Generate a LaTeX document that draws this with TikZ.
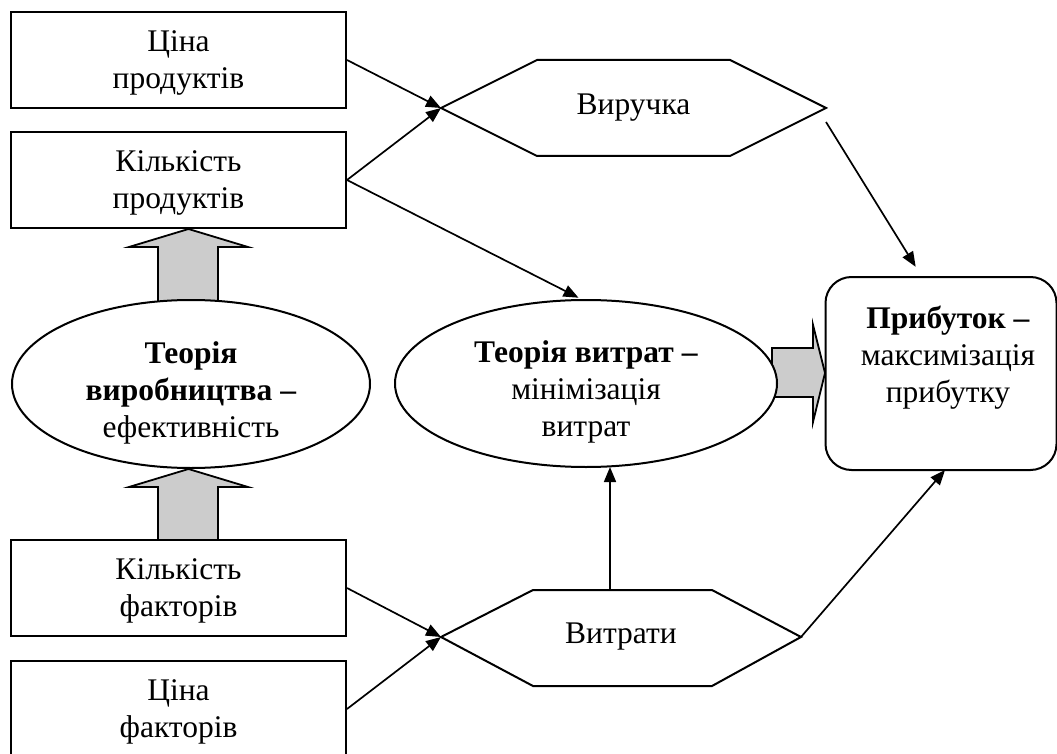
\documentclass[tikz,border=0pt]{standalone}
\usepackage{fontspec}
\setmainfont{Liberation Serif}
\usetikzlibrary{shapes.geometric,arrows.meta,calc}

\tikzset{
  every node/.style={font=\fontsize{31.5}{37}\selectfont, align=center, inner sep=0pt},
  frame/.style={draw, line width=2pt, fill=white},
  factor/.style={frame, rectangle, minimum width=335pt, minimum height=96pt},
  theory/.style={frame, ellipse},
  hexline/.style={line width=2pt, fill=white, line join=miter},
  flow/.style={line width=1.7pt, -{Triangle[length=15pt,width=12pt]}},
  bigarrow/.style={draw, line width=1.8pt, fill=black!20, line join=miter}
}

\begin{document}
\begin{tikzpicture}[x=1pt, y=-1pt]
\useasboundingbox (0,0) rectangle (1057,754);

% wide shaded arrows (drawn first so the shapes sit on top of their tails)
\draw[bigarrow] (158,304) -- (158,247) -- (129,247) -- (188.5,229) -- (248,247)
  -- (218,247) -- (218,304) -- cycle;
\draw[bigarrow] (158,541) -- (158,487) -- (129,487) -- (188.5,469) -- (248,487)
  -- (218,487) -- (218,541) -- cycle;
\draw[bigarrow] (772,348) -- (813,348) -- (813,325) -- (825,373) -- (813,422)
  -- (813,397) -- (772,397) -- cycle;

% input boxes
\node[factor] (pprice) at (178.5,60) {};
\node (pricetxt) at (178.5,63) {Ціна\\продуктів};
\node[factor] (pqty)   at (178.5,180) {};
\node (pqtytxt) at (178.5,183) {Кількість\\продуктів};
\node[factor] (fqty)   at (178.5,588) {};
\node (fqtytxt) at (178.5,591) {Кількість\\факторів};
\node[factor] (fprice) at (178.5,709) {};
\node (fpricetxt) at (178.5,712) {Ціна\\факторів};

% theories
\node[theory, minimum width=358pt, minimum height=168pt] (prod) at (191,384) {};
\node (prodtxt) at (191,393)
  {\textbf{Теорія}\\\textbf{виробництва –}\\ефективність};
\node[theory, minimum width=382pt, minimum height=167pt] (cost) at (586,383.5) {};
\node (costtxt) at (586,392)
  {\textbf{Теорія витрат –}\\мінімізація\\витрат};

% revenue hexagon
\coordinate (revL) at (441,108);
\coordinate (revR) at (826,108);
\draw[hexline] (revL) -- (537,60) -- (730,60) -- (revR) -- (730,156) -- (537,156) -- cycle;
\node (rev) at (633.5,108) {Виручка};

% costs hexagon
\coordinate (costL) at (441,637);
\coordinate (costR) at (801,637);
\draw[hexline] (costL) -- (533,590) -- (712,590) -- (costR) -- (712,686) -- (533,686) -- cycle;
\node (costs) at (621,637) {Витрати};
\coordinate (costT) at (610,590);

% profit
\node[frame, rectangle, rounded corners=26pt, minimum width=231pt, minimum height=193pt]
  (profit) at (941,373.5) {};
\node (profittxt) at (948,358) {\textbf{Прибуток –}\\максимізація\\прибутку};

% connectors
\coordinate (revout) at (826,122);
\coordinate (profitin) at (922,277);
\coordinate (profitbot) at (945,470);
\coordinate (costtop) at (583,300);
\coordinate (costbot) at (610,467);

\draw[flow] (pprice.east) -- (revL);
\draw[flow] (pqty.east) -- (revL);
\draw[flow, shorten >=5pt] (pqty.east) -- (costtop);
\draw[flow, shorten >=12pt] (revout) -- (profitin);
\draw[flow] (fqty.east) -- (costL);
\draw[flow] (fprice.east) -- (costL);
\draw[flow] (costT) -- (costbot);
\draw[flow] (costR) -- (profitbot);
\end{tikzpicture}
\end{document}
